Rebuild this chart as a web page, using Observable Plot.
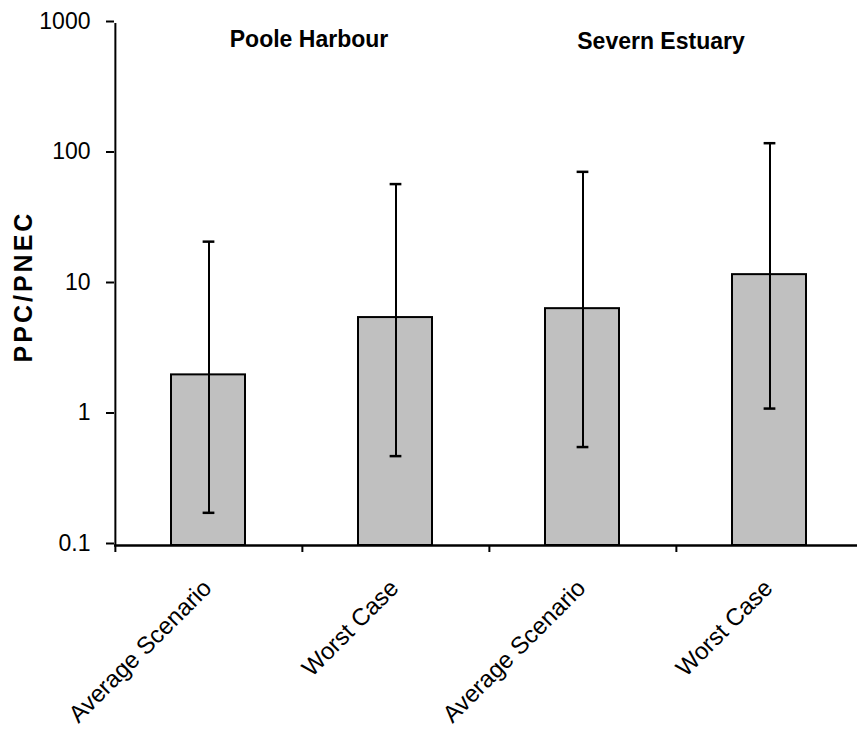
<!DOCTYPE html>
<html>
<head>
<meta charset="utf-8">
<script src="https://cdn.jsdelivr.net/npm/d3@7"></script>
<script src="https://cdn.jsdelivr.net/npm/@observablehq/plot@0.6"></script>
<style>
  html, body { margin: 0; padding: 0; background: white; overflow: hidden; }
</style>
</head>
<body>
<div id="chart"></div>
<script>
// ---- data ----
const sites = ["Poole Harbour", "Poole Harbour", "Severn Estuary", "Severn Estuary"];
const scenarios = ["Average Scenario", "Worst Case", "Average Scenario", "Worst Case"];
const values = [2.03, 5.58, 6.53, 11.9];
const lows = [0.178, 0.484, 0.568, 1.12];
const highs = [21.3, 58.8, 73, 121];
const yTicks = [0.1, 1, 10, 100, 1000];
const yTickLabels = ["0.1", "1", "10", "100", "1000"];
const yDomain = [0.1, 1000];
const yLabel = "PPC/PNEC";
const siteTitles = ["Poole Harbour", "Severn Estuary"];

const keys = sites.map((s, i) => s + "|" + scenarios[i]);
const rows = keys.map((k, i) => ({key: k, site: sites[i], scenario: scenarios[i], value: values[i], low: lows[i], high: highs[i]}));

// ---- layout ----
const W = 857, H = 744;
const mL = 114, mR = -6, mT = 23, mB = 199;
const bw = (W - mL - mR) / keys.length;
const font = "'Liberation Sans', Arial, Helvetica, sans-serif";

const chart = Plot.plot({
  width: W, height: H,
  marginTop: mT, marginBottom: mB, marginLeft: mL, marginRight: mR,
  style: {fontFamily: font, background: "white", color: "black", overflow: "hidden"},
  x: {type: "band", domain: keys, padding: 0, axis: null, label: null},
  y: {type: "log", domain: yDomain, axis: null, label: null},
  marks: [
    Plot.barY(rows, {x: "key", y1: yDomain[0], y2: "value", fill: "#c0c0c0", stroke: "black", strokeWidth: 2, insetLeft: 56, insetRight: 57}),
    Plot.ruleX(rows, {x: "key", y1: "low", y2: "high", stroke: "black", strokeWidth: 2}),
    Plot.tickY(rows, {x: "key", y: "low", stroke: "black", strokeWidth: 2.5, insetLeft: bw / 2 - 6, insetRight: bw / 2 - 6}),
    Plot.tickY(rows, {x: "key", y: "high", stroke: "black", strokeWidth: 2.5, insetLeft: bw / 2 - 6, insetRight: bw / 2 - 6}),
    Plot.axisY({ticks: yTicks, tickSize: 8, tickPadding: 16, tickFormat: d => yTickLabels[yTicks.indexOf(d)], fontSize: 23, strokeWidth: 2, dy: -2, label: null}),
    Plot.ruleX([keys[0]], {x: d => d, dx: -bw / 2, stroke: "black", strokeWidth: 2}),
    Plot.ruleY([yDomain[0]], {stroke: "black", strokeWidth: 2.5}),
    Plot.axisX({ticks: keys, tickSize: 7, tickFormat: () => "", dx: -bw / 2, strokeWidth: 2, label: null}),
    Plot.text(rows, {x: "key", frameAnchor: "bottom", text: "scenario", rotate: -45, textAnchor: "end", lineAnchor: "bottom", dx: 4, dy: 44, fontSize: 24, fill: "black"}),
    Plot.text([siteTitles[0]], {x: () => keys[0], frameAnchor: "top", text: d => d, lineAnchor: "bottom", dx: 100, dy: 23, fontSize: 23, fontWeight: "bold", fill: "black"}),
    Plot.text([siteTitles[1]], {x: () => keys[2], frameAnchor: "top", text: d => d, lineAnchor: "bottom", dx: 78, dy: 25, fontSize: 23, fontWeight: "bold", fill: "black"}),
    Plot.text([yLabel], {frameAnchor: "left", text: d => d, rotate: -90, textAnchor: "middle", lineAnchor: "bottom", dx: -83, dy: 2, fontSize: 25, fontWeight: "bold", fill: "black"})
  ]
});

document.getElementById("chart").appendChild(chart);
// stretch the y label to match the reference's letter spacing
d3.select(chart).selectAll("text").filter(function () { return this.textContent === yLabel; })
  .style("letter-spacing", "3px");
</script>
</body>
</html>
